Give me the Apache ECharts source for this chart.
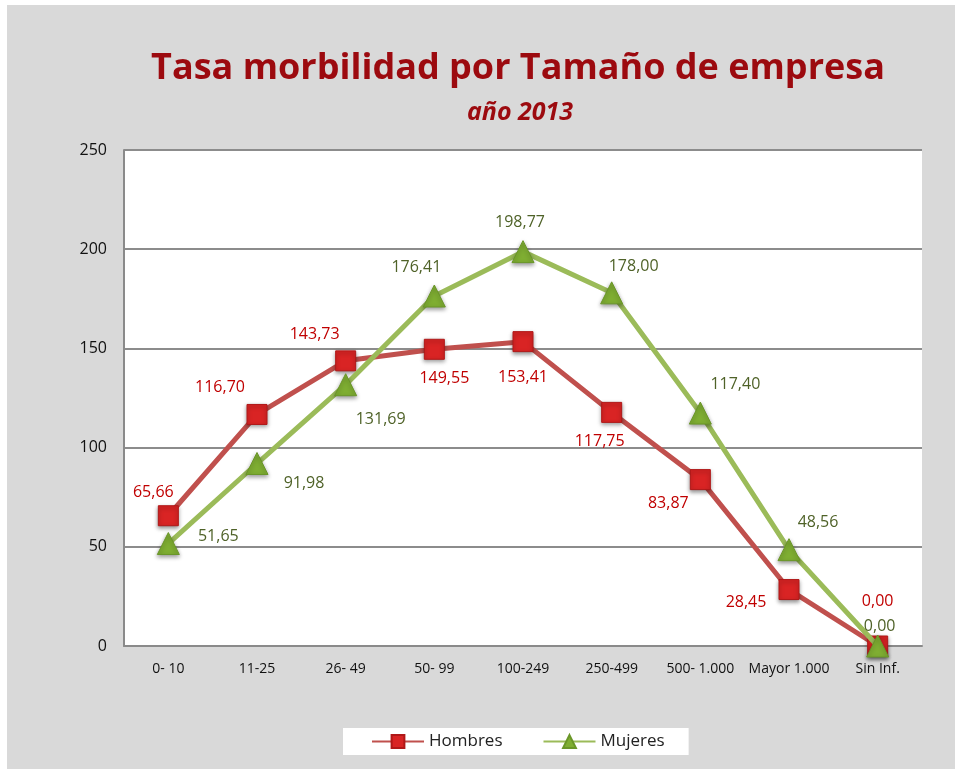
<!DOCTYPE html>
<html>
<head>
<meta charset="utf-8">
<script src="https://cdn.jsdelivr.net/npm/echarts@6/dist/echarts.min.js"></script>
<style>
    body { margin: 0; background: #fff; }
    #main { position: absolute; left: 7px; top: 5px; width: 948px; height: 764px; background: #d9d9d9; }
</style>
</head>
<body>
<div id="main"></div>
<script>
    // datos
    var categorias = ['0- 10', '11-25', '26- 49', '50- 99', '100-249', '250-499', '500- 1.000', 'Mayor 1.000', 'Sin Inf.'];
    var hombres = [65.66, 116.70, 143.73, 149.55, 153.41, 117.75, 83.87, 28.45, 0.00];
    var mujeres = [51.65, 91.98, 131.69, 176.41, 198.77, 178.00, 117.40, 48.56, 0.00];
    var ejeY = [0, 50, 100, 150, 200, 250];

    // desplazamiento de etiquetas (px)
    var offHombres = [[-15, -23], [-37, -27], [-31, -26], [10, 29], [0, 36], [-12, 29], [-32, 24], [-43, 13], [0, -45]];
    var offMujeres = [[50, -7], [47, 20], [35, 35], [-18, -29], [-3, -29], [22, -26], [35, -29], [29, -27], [2, -20]];

    function fmt(v) { return v.toFixed(2).replace('.', ','); }

    function puntos(valores, offs, color) {
        return valores.map(function (v, i) {
            return { value: v, label: { offset: offs[i], color: color } };
        });
    }

    var myChart = echarts.init(document.getElementById('main'));
    var option = {
        textStyle: { fontFamily: 'Open Sans' },
        title: [{
            text: 'Tasa morbilidad por Tamaño de empresa',
            left: 506, top: 41, textAlign: 'center',
            textStyle: { color: '#9c0a0f', fontSize: 36, fontWeight: 'bold', fontFamily: 'Open Sans' }
        }, {
            text: 'año 2013',
            left: 508, top: 90, textAlign: 'center',
            textStyle: { color: '#9c0a0f', fontSize: 25, fontWeight: 'bold', fontStyle: 'italic', fontFamily: 'Open Sans' }
        }],
        legend: {
            bottom: 14, left: 336,
            backgroundColor: '#fff',
            borderColor: '#fff',
            padding: [5, 24, 5, 28],
            itemGap: 40,
            itemWidth: 52, itemHeight: 16,
            textStyle: { color: '#222', fontSize: 17, fontFamily: 'Open Sans' },
            data: ['Hombres', 'Mujeres']
        },
        grid: { left: 117, right: 33, top: 145, bottom: 123, backgroundColor: '#fff', show: true, borderWidth: 0 },
        xAxis: {
            type: 'category',
            data: categorias,
            boundaryGap: true,
            axisLine: { lineStyle: { color: '#8a8a8a', width: 2 } },
            axisTick: { show: false },
            axisLabel: { color: '#111', fontSize: 14, margin: 16, interval: 0, fontFamily: 'Open Sans' }
        },
        yAxis: {
            type: 'value',
            min: ejeY[0], max: ejeY[ejeY.length - 1], interval: 50,
            axisLine: { show: true, lineStyle: { color: '#8a8a8a', width: 2 } },
            axisTick: { show: false },
            axisLabel: { color: '#111', fontSize: 16, margin: 17 },
            splitLine: { lineStyle: { color: '#8c8c8c', width: 2 } }
        },
        series: [{
            name: 'Hombres',
            type: 'line',
            data: puntos(hombres, offHombres, '#c00000'),
            symbol: 'rect',
            symbolSize: 20,
            lineStyle: { color: '#c0504d', width: 5 },
            itemStyle: { color: '#d92424', borderColor: '#b01818', borderWidth: 1, shadowBlur: 4, shadowColor: 'rgba(0,0,0,0.4)', shadowOffsetY: 2 },
            label: { show: true, position: 'inside', fontSize: 16, formatter: function (p) { return fmt(p.value); } },
            z: 2
        }, {
            name: 'Mujeres',
            type: 'line',
            data: puntos(mujeres, offMujeres, '#4f6228'),
            symbol: 'triangle',
            symbolSize: 22,
            lineStyle: { color: '#9bbb59', width: 5 },
            itemStyle: { color: '#7fae32', borderColor: '#6a9628', borderWidth: 1, shadowBlur: 4, shadowColor: 'rgba(0,0,0,0.4)', shadowOffsetY: 2 },
            label: { show: true, position: 'inside', fontSize: 16, formatter: function (p) { return fmt(p.value); } },
            z: 3
        }]
    };
    myChart.setOption(option);
</script>
</body>
</html>
